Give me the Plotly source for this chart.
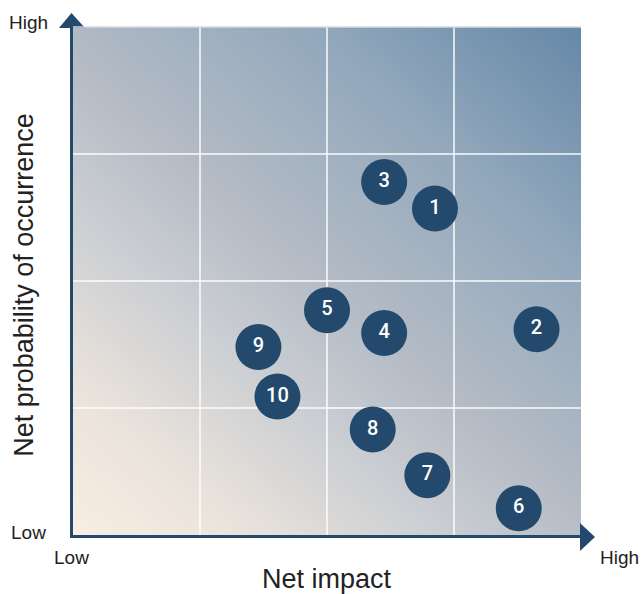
import numpy as np
import plotly.graph_objects as go

# Risk register: net impact (x) and net probability (y) on a 0-4 grid
risk_ids = ["1", "2", "3", "4", "5", "6", "7", "8", "9", "10"]
net_impact = [2.85, 3.65, 2.45, 2.45, 2.00, 3.51, 2.79, 2.36, 1.46, 1.61]
net_probability = [2.57, 1.62, 2.78, 1.59, 1.77, 0.21, 0.47, 0.83, 1.48, 1.09]

grid_steps = [1, 2, 3]
axis_min, axis_max = 0, 4

NAVY = "#234a6d"
TEXT = "#222222"
FONT = "Liberation Sans"

fig = go.Figure()

# Diagonal background wash: cream (low/low) to steel blue (high/high)
bg_x = np.linspace(-0.1, 4.1, 43)
bg_y = np.linspace(-0.1, 4.1, 43)
BX, BY = np.meshgrid(bg_x, bg_y)
fig.add_trace(go.Heatmap(
    x=bg_x, y=bg_y, z=(0.47 * BX + 0.53 * BY) / 4.0,
    zmin=0, zmax=1, zsmooth="best", showscale=False, hoverinfo="skip",
    colorscale=[
        [0.0, "#f8eee2"],
        [0.15, "#ebe4dc"],
        [0.35, "#cacdd2"],
        [0.5, "#b4bbc5"],
        [0.75, "#92a8bc"],
        [1.0, "#6588a7"],
    ],
))

# White grid lines on top of the wash
gx, gy = [], []
for g in grid_steps:
    gx += [g, g, None]
    gy += [axis_min, axis_max, None]
    gx += [axis_min, axis_max, None]
    gy += [g, g, None]
fig.add_trace(go.Scatter(
    x=gx, y=gy, mode="lines", hoverinfo="skip", showlegend=False,
    line=dict(color="rgba(255,255,255,0.95)", width=1.5),
))

# Numbered risk bubbles
fig.add_trace(go.Scatter(
    x=net_impact, y=net_probability, mode="markers+text",
    text=risk_ids, textposition="middle center",
    textfont=dict(family="Roboto", size=20, color="white", weight=500),
    marker=dict(size=46, color=NAVY, line=dict(width=0)),
    showlegend=False, cliponaxis=False,
))

axis_common = dict(
    range=[axis_min, axis_max], showgrid=False, zeroline=False,
    showticklabels=False, ticks="", showline=True,
    linecolor=NAVY, linewidth=3, mirror=False, fixedrange=True,
)
fig.update_xaxes(**axis_common)
fig.update_yaxes(**axis_common)

# Arrow heads at the ends of both axes, plus a faint top edge
fig.add_shape(type="path", xref="paper", yref="paper",
              path="M -0.0276 0.998 L -0.003 1.0276 L 0.0236 0.998 Z",
              fillcolor=NAVY, line=dict(width=0), layer="above")
fig.add_shape(type="path", xref="paper", yref="paper",
              path="M 0.998 0.0236 L 1.0276 -0.0037 L 0.998 -0.0315 Z",
              fillcolor=NAVY, line=dict(width=0), layer="above")
fig.add_shape(type="line", xref="paper", yref="paper",
              x0=0, x1=1.0, y0=1.0, y1=1.0,
              line=dict(color="#d6d9dd", width=1.5), layer="above")

labels = [
    dict(text="High", x=-0.045, y=1.0098, xanchor="right", yanchor="middle"),
    dict(text="Low", x=-0.049, y=0.004, xanchor="right", yanchor="middle"),
    dict(text="Low", x=-0.002, y=-0.045, xanchor="center", yanchor="middle"),
    dict(text="High", x=1.075, y=-0.045, xanchor="center", yanchor="middle"),
]
for lab in labels:
    fig.add_annotation(xref="paper", yref="paper", showarrow=False,
                       font=dict(family=FONT, size=19, color=TEXT), **lab)

fig.add_annotation(text="Net impact", xref="paper", yref="paper",
                   x=0.5, y=-0.086, xanchor="center", yanchor="middle",
                   showarrow=False, font=dict(family=FONT, size=27, color=TEXT))
fig.add_annotation(text="Net probability of occurrence", xref="paper", yref="paper",
                   x=-0.097, y=0.492, xanchor="center", yanchor="middle",
                   textangle=-90, showarrow=False,
                   font=dict(family=FONT, size=27, color=TEXT))

fig.update_layout(
    width=642, height=594,
    margin=dict(l=73, r=61, t=27, b=59),
    paper_bgcolor="white", plot_bgcolor="white",
    showlegend=False,
)

fig.write_html("out.html")
